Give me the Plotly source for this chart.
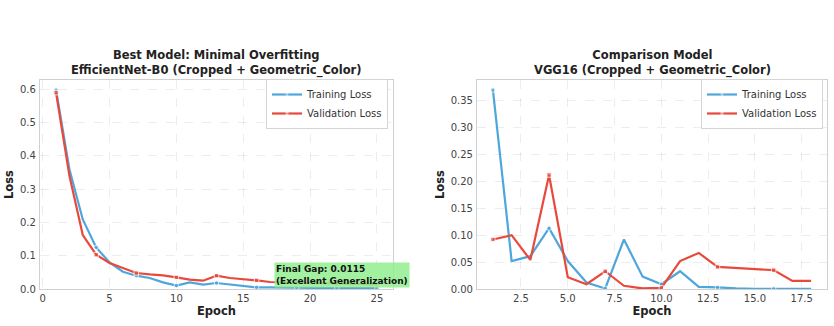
import plotly.graph_objects as go

# ---- data ----
eff_epochs = list(range(1, 26))
eff_train = [0.598, 0.360, 0.209, 0.125, 0.080, 0.052, 0.040, 0.033, 0.020, 0.010,
             0.020, 0.013, 0.018, 0.013, 0.008, 0.005, 0.005, 0.004, 0.004, 0.003,
             0.003, 0.003, 0.003, 0.0025, 0.0025]
eff_val = [0.590, 0.340, 0.162, 0.103, 0.078, 0.062, 0.048, 0.044, 0.041, 0.035,
           0.028, 0.025, 0.040, 0.033, 0.030, 0.026, 0.021, 0.020, 0.019, 0.018,
           0.017, 0.016, 0.015, 0.0145, 0.014]

vgg_epochs = list(range(1, 19))
vgg_train = [0.370, 0.052, 0.061, 0.113, 0.052, 0.012, 0.001, 0.092, 0.023, 0.009,
             0.033, 0.004, 0.003, 0.001, 0.0005, 0.0003, 0.0002, 0.0001]
vgg_val = [0.092, 0.100, 0.054, 0.212, 0.022, 0.009, 0.033, 0.006, 0.001, 0.002,
           0.052, 0.067, 0.041, 0.039, 0.037, 0.035, 0.015, 0.015]

final_gap_text = "Final Gap: 0.0115<br>(Excellent Generalization)"

BLUE = "#4ea6dc"
RED = "#e8493c"
FONT = "DejaVu Sans"
MARK_EVERY = 3


def msizes(n):
    return [4.5 if i % MARK_EVERY == 0 else 0 for i in range(n)]


fig = go.Figure()

def add_pair(x, tr, va, xa, ya, legend):
    fig.add_trace(go.Scatter(x=x, y=tr, mode="lines+markers", name="Training Loss",
                             line=dict(color=BLUE, width=2.2),
                             marker=dict(size=msizes(len(x)), color=BLUE, symbol="circle"),
                             xaxis=xa, yaxis=ya, legend=legend))
    fig.add_trace(go.Scatter(x=x, y=va, mode="lines+markers", name="Validation Loss",
                             line=dict(color=RED, width=2.2),
                             marker=dict(size=msizes(len(x)), color=RED, symbol="square"),
                             xaxis=xa, yaxis=ya, legend=legend))

add_pair(eff_epochs, eff_train, eff_val, "x", "y", "legend")
add_pair(vgg_epochs, vgg_train, vgg_val, "x2", "y2", "legend2")

ydom = [1 - 289 / 326, 1 - 80 / 326]
axis_common = dict(showline=True, mirror=True, linecolor="#d0d0d0", linewidth=1.2,
                   showgrid=True, gridcolor="rgba(0,0,0,0.07)", griddash="dash",
                   gridwidth=0.8, zeroline=False, ticks="", automargin=False,
                   tickfont=dict(family=FONT, size=10, color="#444"))
title_font = dict(family=FONT, size=11.5, color="#222")

fig.update_layout(
    width=834, height=326, margin=dict(l=0, r=0, t=0, b=0),
    paper_bgcolor="white", plot_bgcolor="white",
    xaxis=dict(domain=[40 / 834, 393 / 834], range=[-0.2, 26.2], dtick=5,
               ticklabelstandoff=0,
               title=dict(text="<b>Epoch</b>", font=title_font, standoff=3), **axis_common),
    yaxis=dict(domain=ydom, range=[0, 0.628], dtick=0.1, tickformat=".1f",
               ticklabelstandoff=1,
               title=dict(text="<b>Loss</b>", font=title_font, standoff=3), **axis_common),
    xaxis2=dict(domain=[477 / 834, 827 / 834], range=[0.15, 18.85], dtick=2.5, tickformat=".1f",
                ticklabelstandoff=0,
                title=dict(text="<b>Epoch</b>", font=title_font, standoff=3), anchor="y2", **axis_common),
    yaxis2=dict(domain=ydom, range=[0, 0.3885], dtick=0.05, tickformat=".2f", anchor="x2",
                ticklabelstandoff=1,
                title=dict(text="<b>Loss</b>", font=title_font, standoff=3), **axis_common),
    legend=dict(x=388 / 834, y=1 - 79 / 326, xanchor="right", yanchor="top",
                bgcolor="rgba(255,255,255,0.9)", bordercolor="#d5d5d5", borderwidth=1,
                font=dict(family=FONT, size=10, color="#333"), tracegroupgap=0,
                itemwidth=30),
    legend2=dict(x=823 / 834, y=1 - 79 / 326, xanchor="right", yanchor="top",
                 bgcolor="rgba(255,255,255,0.9)", bordercolor="#d5d5d5", borderwidth=1,
                 font=dict(family=FONT, size=10, color="#333"), tracegroupgap=0,
                 itemwidth=30),
    showlegend=True,
)

annotations = [
    dict(text="<b>Best Model: Minimal Overfitting<br>EfficientNet-B0 (Cropped + Geometric_Color)</b>",
         xref="paper", yref="paper", x=216.5 / 834, y=1 - 46 / 326, xanchor="center", yanchor="top",
         showarrow=False, font=dict(family=FONT, size=11.5, color="#222")),
    dict(text="<b>Comparison Model<br>VGG16 (Cropped + Geometric_Color)</b>",
         xref="paper", yref="paper", x=652 / 834, y=1 - 46 / 326, xanchor="center", yanchor="top",
         showarrow=False, font=dict(family=FONT, size=11.5, color="#222")),
    dict(text="<b>" + final_gap_text + "</b>", xref="x", yref="paper",
         x=17.3, y=1 - 287.5 / 326, xanchor="left", yanchor="bottom", align="left", showarrow=False,
         bgcolor="rgba(144,238,144,0.85)", borderpad=1,
         font=dict(family=FONT, size=9, color="#111")),
]
fig.update_layout(annotations=annotations)

fig.write_html("out.html")
